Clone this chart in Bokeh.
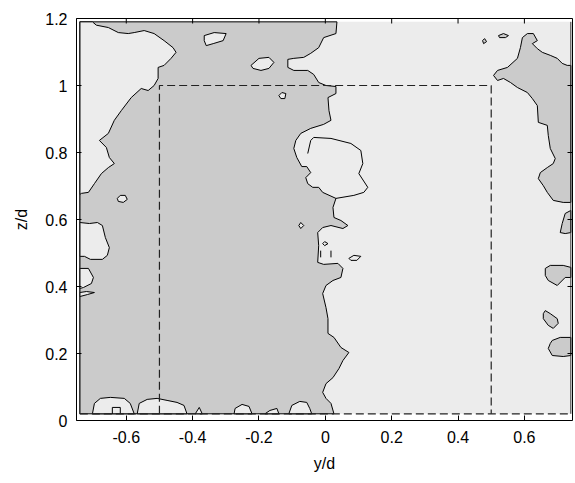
from bokeh.plotting import figure
from bokeh.models import Range1d, FixedTicker, ColumnDataSource
from bokeh.embed import file_html
from bokeh.resources import INLINE

# ---------------- data (y/d, z/d) ----------------
x_ticks = [-0.6, -0.4, -0.2, 0, 0.2, 0.4, 0.6]
x_tick_labels = ["-0.6", "-0.4", "-0.2", "0", "0.2", "0.4", "0.6"]
z_ticks = [0, 0.2, 0.4, 0.6, 0.8, 1.0, 1.2]
z_tick_labels = ["0", "0.2", "0.4", "0.6", "0.8", "1", "1.2"]

# axis limits
y_lim = [-0.75, 0.745]
z_lim = [0, 1.2]

# measurement domain
domain_y = [-0.74, 0.74, 0.74, -0.74]
domain_z = [0.02, 0.02, 1.19, 1.19]

# dashed model outline
model_y = [-0.5, -0.5, 0.5, 0.5]
model_z = [0.02, 1.0, 1.0, 0.02]

# main dark (low-value) region, left/centre
dark_main_y = [-0.74, 0.035, 0.032, -0.005, -0.020, -0.044, -0.065, -0.095, -0.113, -0.113,
               -0.095, -0.053, -0.035, -0.020, 0.002, 0.032, 0.032, 0.008, 0.011, 0.017,
               -0.005, -0.044, -0.074, -0.089, -0.095, -0.086, -0.071, -0.056, -0.044, -0.059,
               -0.053, -0.038, -0.020, -0.008, 0.032, 0.023, 0.026, 0.047, 0.068, 0.053,
               0.017, -0.008, -0.023, -0.020, -0.023, -0.005, 0.038, 0.053, 0.047, 0.023,
               0.002, -0.008, 0.002, 0.008, 0.008, 0.026, 0.047, 0.071, 0.053, 0.041,
               0.023, 0.002, -0.008, 0.002, 0.017, 0.026, -0.74]
dark_main_z = [1.19, 1.19, 1.155, 1.143, 1.113, 1.096, 1.084, 1.081, 1.078, 1.054,
               1.045, 1.045, 1.033, 1.009, 1.000, 0.997, 0.976, 0.964, 0.925, 0.896,
               0.884, 0.872, 0.857, 0.836, 0.812, 0.785, 0.758, 0.758, 0.740, 0.725,
               0.707, 0.696, 0.696, 0.681, 0.663, 0.636, 0.606, 0.597, 0.582, 0.573,
               0.582, 0.576, 0.561, 0.522, 0.472, 0.466, 0.469, 0.454, 0.427, 0.418,
               0.403, 0.379, 0.337, 0.304, 0.260, 0.248, 0.218, 0.203, 0.179, 0.155,
               0.128, 0.110, 0.084, 0.066, 0.051, 0.02, 0.02]

# dark region, upper right
dark_ur_y = [0.594, 0.609, 0.627, 0.639, 0.624, 0.639, 0.654, 0.678, 0.699, 0.714,
             0.729, 0.74, 0.74, 0.717, 0.687, 0.669, 0.657, 0.642, 0.648, 0.669,
             0.687, 0.693, 0.678, 0.672, 0.669, 0.642, 0.639, 0.624, 0.609, 0.579,
             0.558, 0.537, 0.519, 0.507, 0.519, 0.549, 0.579, 0.588]
dark_ur_z = [1.143, 1.155, 1.155, 1.134, 1.125, 1.110, 1.099, 1.090, 1.081, 1.066,
             1.060, 1.060, 0.651, 0.651, 0.657, 0.681, 0.701, 0.722, 0.740, 0.755,
             0.767, 0.782, 0.812, 0.851, 0.881, 0.890, 0.940, 0.961, 0.979, 0.994,
             1.009, 1.021, 1.015, 1.030, 1.045, 1.054, 1.081, 1.113]

# dark patches at the right edge
dark_r1_y = [0.74, 0.723, 0.714, 0.708, 0.723, 0.74]
dark_r1_z = [0.627, 0.618, 0.588, 0.561, 0.558, 0.561]
dark_r2_y = [0.663, 0.678, 0.717, 0.74, 0.74, 0.723, 0.699, 0.672, 0.663]
dark_r2_z = [0.454, 0.463, 0.463, 0.457, 0.427, 0.427, 0.403, 0.418, 0.433]
dark_r3_y = [0.663, 0.678, 0.699, 0.702, 0.687, 0.672, 0.657, 0.657]
dark_r3_z = [0.328, 0.319, 0.304, 0.290, 0.275, 0.284, 0.304, 0.319]
dark_r4_y = [0.684, 0.708, 0.74, 0.74, 0.717, 0.684, 0.672, 0.678]
dark_r4_z = [0.239, 0.248, 0.248, 0.194, 0.191, 0.194, 0.215, 0.230]

# small dark islands near the top right
dark_i1_y = [0.522, 0.537, 0.552, 0.543, 0.525]
dark_i1_z = [1.149, 1.155, 1.149, 1.143, 1.143]
dark_i2_y = [0.474, 0.480, 0.486, 0.477]
dark_i2_z = [1.134, 1.140, 1.131, 1.125]

# light (high-value) pockets inside the dark region
light_ul_y = [-0.74, -0.702, -0.690, -0.654, -0.624, -0.594, -0.576, -0.546, -0.516, -0.486,
              -0.459, -0.450, -0.465, -0.486, -0.504, -0.504, -0.516, -0.534, -0.555, -0.585,
              -0.615, -0.636, -0.654, -0.681, -0.660, -0.651, -0.636, -0.654, -0.675, -0.696,
              -0.714, -0.735, -0.74]
light_ul_z = [1.19, 1.19, 1.180, 1.173, 1.158, 1.155, 1.158, 1.164, 1.155, 1.134,
              1.113, 1.099, 1.081, 1.060, 1.054, 1.021, 1.000, 0.985, 0.991, 0.964,
              0.925, 0.896, 0.857, 0.836, 0.815, 0.785, 0.767, 0.755, 0.737, 0.707,
              0.681, 0.678, 0.675]
light_l1_y = [-0.74, -0.711, -0.687, -0.672, -0.663, -0.651, -0.657, -0.672, -0.708, -0.726, -0.74]
light_l1_z = [0.591, 0.588, 0.591, 0.582, 0.546, 0.516, 0.493, 0.481, 0.481, 0.490, 0.490]
light_l2_y = [-0.74, -0.714, -0.699, -0.705, -0.729, -0.74]
light_l2_z = [0.454, 0.454, 0.427, 0.409, 0.397, 0.394]
light_l3_y = [-0.74, -0.720, -0.696, -0.717, -0.74]
light_l3_z = [0.382, 0.385, 0.382, 0.376, 0.370]
light_i1_y = [-0.627, -0.618, -0.603, -0.597, -0.609, -0.624]
light_i1_z = [0.663, 0.672, 0.672, 0.660, 0.651, 0.654]
light_t1_y = [-0.365, -0.335, -0.299, -0.308, -0.338, -0.359, -0.365]
light_t1_z = [1.149, 1.158, 1.155, 1.134, 1.125, 1.119, 1.134]
light_t2_y = [-0.224, -0.200, -0.170, -0.155, -0.170, -0.194, -0.218]
light_t2_z = [1.060, 1.081, 1.084, 1.069, 1.051, 1.045, 1.051]
light_t3_y = [-0.140, -0.131, -0.119, -0.122, -0.134]
light_t3_z = [0.970, 0.979, 0.976, 0.961, 0.961]
light_c1_y = [-0.080, -0.074, -0.065, -0.074]
light_c1_z = [0.582, 0.591, 0.582, 0.573]
light_c2_y = [-0.008, -0.002, 0.008, -0.002]
light_c2_z = [0.528, 0.534, 0.528, 0.522]
light_c3_y = [0.071, 0.086, 0.107, 0.095, 0.077]
light_c3_z = [0.484, 0.493, 0.490, 0.478, 0.478]

# light bumps along the floor
light_bA_y = [-0.702, -0.696, -0.678, -0.648, -0.606, -0.588, -0.576]
light_bA_z = [0.02, 0.051, 0.066, 0.069, 0.066, 0.051, 0.02]
light_bB_y = [-0.567, -0.561, -0.537, -0.507, -0.477, -0.447, -0.426, -0.417]
light_bB_z = [0.02, 0.051, 0.063, 0.066, 0.060, 0.054, 0.045, 0.02]
light_bT_y = [-0.392, -0.380, -0.371]
light_bT_z = [0.02, 0.039, 0.02]
light_bC_y = [-0.275, -0.272, -0.251, -0.230, -0.221]
light_bC_z = [0.02, 0.036, 0.048, 0.042, 0.02]
light_bS_y = [-0.182, -0.167, -0.146, -0.140]
light_bS_z = [0.02, 0.030, 0.036, 0.02]
light_bD_y = [-0.110, -0.101, -0.077, -0.056, -0.047, -0.041]
light_bD_z = [0.02, 0.045, 0.057, 0.054, 0.036, 0.02]

# extra open contour lines
lobe_y = [-0.053, -0.044, -0.035, 0.017, 0.077, 0.107, 0.113, 0.101, 0.128, 0.116, 0.086, 0.032]
lobe_z = [0.797, 0.836, 0.845, 0.842, 0.827, 0.806, 0.767, 0.737, 0.696, 0.681, 0.672, 0.663]
box_y = [-0.642, -0.642, -0.618, -0.618]
box_z = [0.02, 0.039, 0.039, 0.02]
tick1_y = [-0.014, -0.014]
tick1_z = [0.507, 0.487]
tick2_y = [0.017, 0.017]
tick2_z = [0.507, 0.487]

DARK = "#cbcbcb"
LIGHT = "#ececec"
FONT = "Liberation Sans"
TICK_LEN_PX = 5

p = figure(width=575, height=483, output_backend="svg", toolbar_location=None,
           x_range=Range1d(*y_lim), y_range=Range1d(*z_lim),
           min_border_left=76, min_border_right=3, min_border_top=18, min_border_bottom=63,
           background_fill_color="white", border_fill_color="white")
p.grid.visible = False
p.outline_line_color = "black"
p.outline_line_width = 1

# background (high-value) field
p.patch(domain_y, domain_z, fill_color=LIGHT, line_color=None)

dark_src = ColumnDataSource(dict(
    ys=[dark_main_y, dark_ur_y, dark_r1_y, dark_r2_y, dark_r3_y, dark_r4_y, dark_i1_y, dark_i2_y],
    zs=[dark_main_z, dark_ur_z, dark_r1_z, dark_r2_z, dark_r3_z, dark_r4_z, dark_i1_z, dark_i2_z]))
p.patches("ys", "zs", source=dark_src, fill_color=DARK, line_color="black", line_width=1)

light_src = ColumnDataSource(dict(
    ys=[light_ul_y, light_l1_y, light_l2_y, light_l3_y, light_i1_y, light_t1_y, light_t2_y,
        light_t3_y, light_c1_y, light_c2_y, light_c3_y, light_bA_y, light_bB_y, light_bT_y,
        light_bC_y, light_bS_y, light_bD_y],
    zs=[light_ul_z, light_l1_z, light_l2_z, light_l3_z, light_i1_z, light_t1_z, light_t2_z,
        light_t3_z, light_c1_z, light_c2_z, light_c3_z, light_bA_z, light_bB_z, light_bT_z,
        light_bC_z, light_bS_z, light_bD_z]))
p.patches("ys", "zs", source=light_src, fill_color=LIGHT, line_color="black", line_width=1)

p.multi_line([lobe_y, box_y, tick1_y, tick2_y], [lobe_z, box_z, tick1_z, tick2_z],
             line_color="black", line_width=1)

# domain side edges
p.line([domain_y[0], domain_y[3]], [domain_z[0], domain_z[3]], line_color="#333333", line_width=1)
p.line([domain_y[1], domain_y[2]], [domain_z[1], domain_z[2]], line_color="#333333", line_width=1)
# dashed model outline and floor
p.line(model_y, model_z, line_color="#222222", line_width=1.2, line_dash="8 4")
p.line([domain_y[0], domain_y[1]], [domain_z[0], domain_z[1]], line_color="#222222",
       line_width=1.2, line_dash="8 4")

# mirrored inward ticks on the top and right frame edges (length in screen px)
px_x = (y_lim[1] - y_lim[0]) / (575 - 76 - 3)
px_z = (z_lim[1] - z_lim[0]) / (483 - 18 - 63)
p.segment(x0=x_ticks, y0=[z_lim[1]] * len(x_ticks), x1=x_ticks,
          y1=[z_lim[1] - TICK_LEN_PX * px_z] * len(x_ticks), line_color="black", line_width=1)
p.segment(x0=[y_lim[1]] * len(z_ticks), y0=z_ticks, x1=[y_lim[1] - TICK_LEN_PX * px_x] * len(z_ticks),
          y1=z_ticks, line_color="black", line_width=1)

# axes
for ax, ticks, labels in ((p.xaxis[0], x_ticks, x_tick_labels), (p.yaxis[0], z_ticks, z_tick_labels)):
    ax.ticker = FixedTicker(ticks=ticks)
    ax.major_label_overrides = {t: l for t, l in zip(ticks, labels)}
    ax.major_tick_in = TICK_LEN_PX
    ax.major_tick_out = 0
    ax.minor_tick_line_color = None
    ax.major_tick_line_color = "black"
    ax.axis_line_color = None
    ax.major_label_text_font = FONT
    ax.major_label_text_color = "black"
    ax.major_label_text_font_size = "16px"
    ax.axis_label_text_font = FONT
    ax.axis_label_text_font_size = "16px"
    ax.axis_label_text_font_style = "normal"
    ax.axis_label_text_color = "black"

p.xaxis[0].major_label_standoff = 10
p.yaxis[0].major_label_standoff = 9
p.xaxis[0].axis_label = "y/d"
p.yaxis[0].axis_label = "z/d"
p.xaxis[0].axis_label_standoff = 9
p.yaxis[0].axis_label_standoff = 12

open("out.html", "w").write(file_html(p, INLINE))
